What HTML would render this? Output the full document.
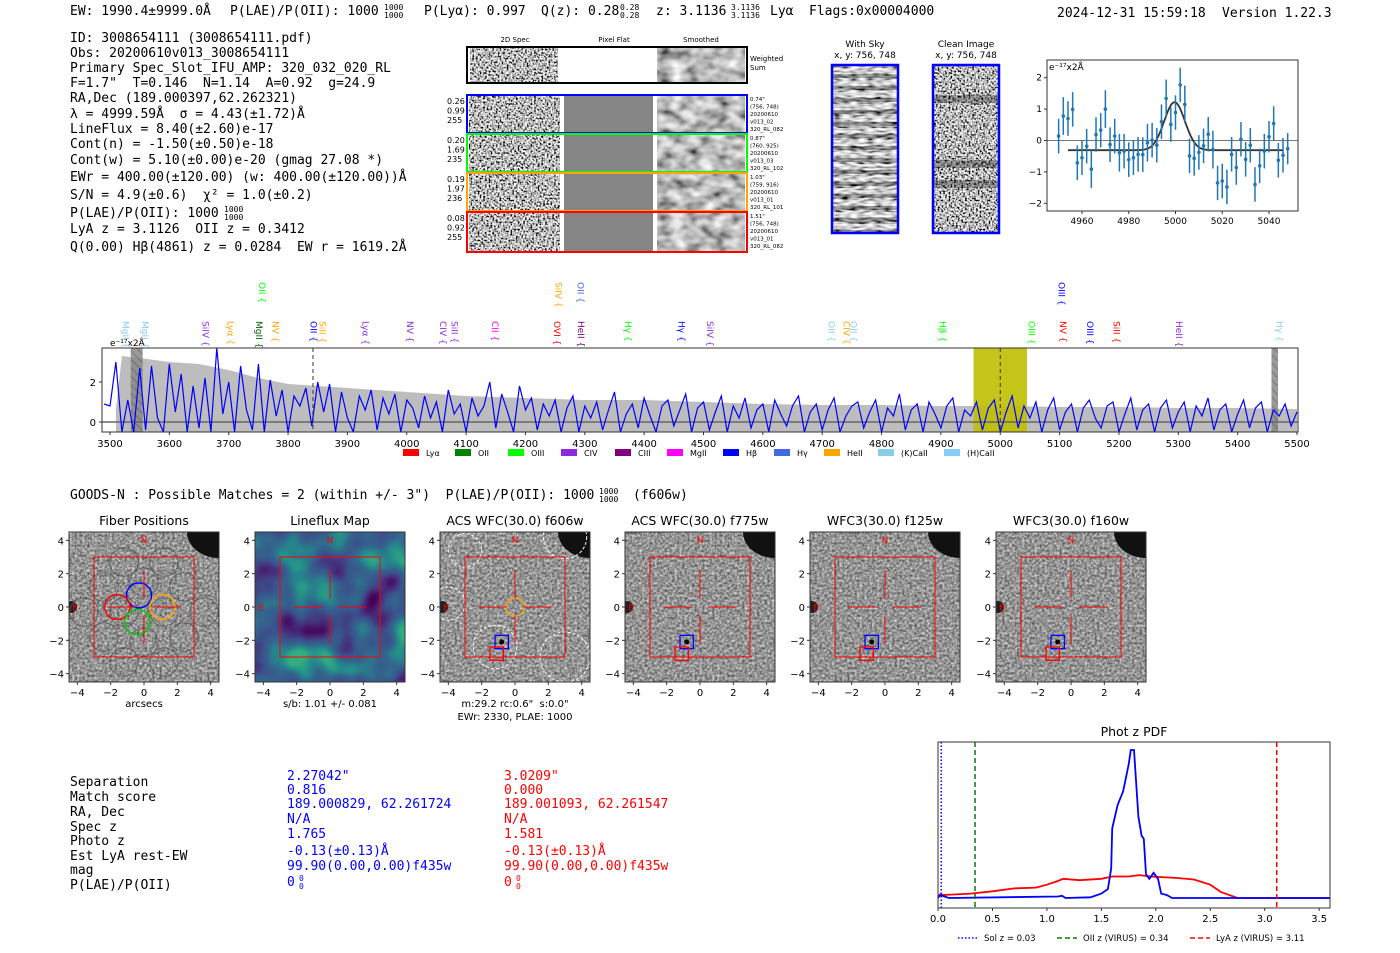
<!DOCTYPE html>
<html><head><meta charset="utf-8"><style>
html,body{margin:0;padding:0;background:#fff;}
svg{display:block;}
text{white-space:pre;}
.m{font-family:"DejaVu Sans Mono","Liberation Mono",monospace;font-size:13px;}
.s{font-family:"DejaVu Sans","Liberation Sans",sans-serif;}
</style></head><body>
<svg id="root" width="1400" height="953" viewBox="0 0 1400 953" xmlns="http://www.w3.org/2000/svg" xml:space="preserve">
<defs>
<filter id="nzHi" x="0" y="0" width="1" height="1"><feTurbulence type="fractalNoise" baseFrequency="0.55" numOctaves="1" seed="3"/><feColorMatrix type="matrix" values="3 0 0 0 -1  3 0 0 0 -1  3 0 0 0 -1  0 0 0 0 1"/></filter>
<filter id="nzSm" x="0" y="0" width="1" height="1"><feTurbulence type="fractalNoise" baseFrequency="0.07 0.1" numOctaves="2" seed="7"/><feColorMatrix type="matrix" values="1.4 0 0 0 -0.2  1.4 0 0 0 -0.2  1.4 0 0 0 -0.2  0 0 0 0 1"/></filter>
<filter id="nzCut" x="0" y="0" width="1" height="1" color-interpolation-filters="sRGB"><feTurbulence type="fractalNoise" baseFrequency="0.4" numOctaves="2" seed="11"/><feColorMatrix type="matrix" values="0.8 0 0 0 0.18  0.8 0 0 0 0.18  0.8 0 0 0 0.18  0 0 0 0 1"/></filter>
<filter id="nzSky" x="0" y="0" width="1" height="1"><feTurbulence type="fractalNoise" baseFrequency="0.12 0.45" numOctaves="1" seed="5"/><feColorMatrix type="matrix" values="2.2 0 0 0 -0.6  2.2 0 0 0 -0.6  2.2 0 0 0 -0.6  0 0 0 0 1"/></filter>
<filter id="viri" x="0" y="0" width="1" height="1" color-interpolation-filters="sRGB"><feTurbulence type="fractalNoise" baseFrequency="0.028" numOctaves="2" seed="4"/><feColorMatrix type="matrix" values="1.7 0 0 0 -0.35  1.7 0 0 0 -0.35  1.7 0 0 0 -0.35  0 0 0 0 1"/><feComponentTransfer><feFuncR type="table" tableValues="0.27 0.28 0.23 0.20 0.14 0.20"/><feFuncG type="table" tableValues="0.00 0.17 0.32 0.40 0.55 0.68"/><feFuncB type="table" tableValues="0.33 0.48 0.55 0.55 0.55 0.50"/></feComponentTransfer></filter>
<pattern id="hatch" width="6" height="6" patternUnits="userSpaceOnUse" patternTransform="rotate(-45)"><rect width="6" height="6" fill="#888"/><line x1="0" y1="0" x2="0" y2="6" stroke="#555" stroke-width="1.5"/></pattern>
<clipPath id="specClip"><rect x="102" y="348" width="1196" height="84"/></clipPath>
<clipPath id="fitClip"><rect x="1047" y="60" width="251" height="151"/></clipPath>
<clipPath id="pdfClip"><rect x="938" y="742" width="392" height="166"/></clipPath>
</defs>

<g class="m" fill="#000">
<text x="70" y="15">EW: 1990.4±9999.0Å</text>
<text x="230" y="15">P(LAE)/P(OII): 1000</text>
<text x="384" y="10" style="font-size:8px">1000</text>
<text x="384" y="18" style="font-size:8px">1000</text>
<text x="424" y="15">P(Lyα): 0.997</text>
<text x="541" y="15">Q(z): 0.28</text>
<text x="620" y="10" style="font-size:8px">0.28</text>
<text x="620" y="18" style="font-size:8px">0.28</text>
<text x="656" y="15">z: 3.1136</text>
<text x="731" y="10" style="font-size:8px">3.1136</text>
<text x="731" y="18" style="font-size:8px">3.1136</text>
<text x="770" y="15">Lyα</text>
<text x="809" y="15">Flags:0x00004000</text>
<text x="1057" y="17">2024-12-31 15:59:18</text>
<text x="1222" y="17">Version 1.22.3</text>
</g>

<g class="m" fill="#000">
<text x="70" y="42">ID: 3008654111 (3008654111.pdf)</text>
<text x="70" y="57">Obs: 20200610v013_3008654111</text>
<text x="70" y="72">Primary Spec_Slot_IFU_AMP: 320_032_020_RL</text>
<text x="70" y="87">F=1.7"  T=0.146  N=1.14  A=0.92  g=24.9</text>
<text x="70" y="102">RA,Dec (189.000397,62.262321)</text>
<text x="70" y="118">λ = 4999.59Å  σ = 4.43(±1.72)Å</text>
<text x="70" y="133">LineFlux = 8.40(±2.60)e-17</text>
<text x="70" y="148">Cont(n) = -1.50(±0.50)e-18</text>
<text x="70" y="164">Cont(w) = 5.10(±0.00)e-20 (gmag 27.08 *)</text>
<text x="70" y="181">EWr = 400.00(±120.00) (w: 400.00(±120.00))Å</text>
<text x="70" y="199">S/N = 4.9(±0.6)  χ² = 1.0(±0.2)</text>
<text x="70" y="217">P(LAE)/P(OII): 1000</text>
<text x="224" y="212" style="font-size:8px">1000</text>
<text x="224" y="220" style="font-size:8px">1000</text>
<text x="70" y="233">LyA z = 3.1126  OII z = 0.3412</text>
<text x="70" y="251">Q(0.00) Hβ(4861) z = 0.0284  EW r = 1619.2Å</text>
</g>

<g id="spec2d" class="s">
<text x="515" y="42" font-size="7" text-anchor="middle">2D Spec</text>
<text x="614" y="42" font-size="7" text-anchor="middle">Pixel Flat</text>
<text x="701" y="42" font-size="7" text-anchor="middle">Smoothed</text>
<rect x="470" y="48" width="88" height="34" filter="url(#nzHi)"/>
<rect x="657" y="48" width="88" height="34" filter="url(#nzSm)"/>
<rect x="467" y="47" width="280" height="36" fill="none" stroke="#000" stroke-width="2"/>
<text x="750" y="61" font-size="7">Weighted</text>
<text x="750" y="70" font-size="7">Sum</text>
</g>

<g class="s">
<text x="865" y="47" font-size="9" text-anchor="middle">With Sky</text>
<text x="865" y="58" font-size="9" text-anchor="middle">x, y: 756, 748</text>
<rect x="832" y="65" width="66" height="168" filter="url(#nzSky)"/>
<g id="stripes"></g>
<rect x="832" y="65" width="66" height="168" fill="none" stroke="#00f" stroke-width="2.5"/>
<text x="966" y="47" font-size="9" text-anchor="middle">Clean Image</text>
<text x="966" y="58" font-size="9" text-anchor="middle">x, y: 756, 748</text>
<rect x="933" y="65" width="66" height="168" filter="url(#nzHi)"/>
<g id="bands"></g>
<rect x="933" y="65" width="66" height="168" fill="none" stroke="#00f" stroke-width="2.5"/>
</g>

<g id="fit" class="s"></g>
<g id="spec" class="s"></g>

<text x="70" y="499" class="m">GOODS-N : Possible Matches = 2 (within +/- 3")  P(LAE)/P(OII): 1000</text>
<text x="599" y="494" class="m" style="font-size:8px">1000</text>
<text x="599" y="502" class="m" style="font-size:8px">1000</text>
<text x="633" y="499" class="m">(f606w)</text>

<g id="cuts" class="s"></g>

<g class="m">
<g fill="#000">
<text x="70" y="786">Separation</text>
<text x="70" y="801">Match score</text>
<text x="70" y="816">RA, Dec</text>
<text x="70" y="831">Spec z</text>
<text x="70" y="845">Photo z</text>
<text x="70" y="860">Est LyA rest-EW</text>
<text x="70" y="874">mag</text>
<text x="70" y="889">P(LAE)/P(OII)</text>
</g>
<g fill="#0000ff">
<text x="287" y="780">2.27042"</text>
<text x="287" y="794">0.816</text>
<text x="287" y="808">189.000829, 62.261724</text>
<text x="287" y="823">N/A</text>
<text x="287" y="838">1.765</text>
<text x="287" y="855">-0.13(±0.13)Å</text>
<text x="287" y="870">99.90(0.00,0.00)f435w</text>
<text x="287" y="886">0</text>
<text x="299" y="881" style="font-size:8px">0</text>
<text x="299" y="889" style="font-size:8px">0</text>
</g>
<g fill="#ff0000">
<text x="504" y="780">3.0209"</text>
<text x="504" y="794">0.000</text>
<text x="504" y="808">189.001093, 62.261547</text>
<text x="504" y="823">N/A</text>
<text x="504" y="838">1.581</text>
<text x="504" y="855">-0.13(±0.13)Å</text>
<text x="504" y="870">99.90(0.00,0.00)f435w</text>
<text x="504" y="886">0</text>
<text x="516" y="881" style="font-size:8px">0</text>
<text x="516" y="889" style="font-size:8px">0</text>
</g>
</g>

<g id="pdf" class="s"></g>
</svg>

<script>
var fitWave = [4950,4952,4954,4956,4958,4960,4962,4964,4966,4968,4970,4972,4974,4976,4978,4980,4982,4984,4986,4988,4990,4992,4994,4996,4998,5000,5002,5004,5006,5008,5010,5012,5014,5016,5018,5020,5022,5024,5026,5028,5030,5032,5034,5036,5038,5040,5042,5044,5046,5048];
var fitFlux = [0.14,0.78,0.70,0.99,-0.71,-0.55,-0.18,-0.91,0.19,0.33,1.0,-0.13,0.14,-0.39,-0.34,-0.61,-0.55,-0.44,-0.45,-0.07,0.01,-0.15,0.6,1.34,0.51,0.89,1.77,1.15,-0.49,-0.57,-0.38,-0.17,0.2,-0.29,-1.35,-1.29,-1.48,-0.44,-0.86,0.04,-0.6,-0.15,-1.4,-0.81,-0.34,0.12,0.54,-0.63,-0.47,-0.26];
var fitErr = [0.55,0.6,0.55,0.55,0.55,0.55,0.55,0.6,0.55,0.55,0.6,0.55,0.55,0.6,0.55,0.55,0.55,0.55,0.55,0.6,0.55,0.55,0.55,0.6,0.55,0.55,0.55,0.6,0.55,0.55,0.55,0.55,0.55,0.6,0.55,0.55,0.55,0.55,0.55,0.55,0.55,0.55,0.55,0.55,0.55,0.5,0.55,0.55,0.55,0.5];
var fitModel = {center:4999.6, sigma:4.43, amp:1.53, base:-0.31};
var fitXTicks = [4960,4980,5000,5020,5040];
var fitYTicks = [-2,-1,0,1,2];

var specStart = 3490, specStep = 10;
var specFlux = [
0.9,0.8,3.0,-0.5,1.1,-0.5,2.7,-0.4,2.8,0.2,-0.5,2.9,0.5,2.4,-0.5,1.8,-0.3,2.2,-0.5,3.7,
0.4,2.0,-0.5,2.8,0.6,-0.4,2.9,-0.5,2.1,0.3,1.6,-0.5,1.3,0.8,1.7,-0.2,2.0,0.5,1.9,-0.5,
1.5,0.2,-0.5,1.3,0.6,1.6,-0.4,1.2,0.4,1.4,-0.5,1.1,0.7,-0.3,1.3,0.2,1.0,-0.5,1.6,0.4,
0.9,-0.5,1.2,0.3,0.8,2.0,-0.3,1.4,0.5,-0.5,1.8,0.6,1.2,-0.4,0.9,0.3,1.1,-0.5,0.7,1.3,
-0.5,0.8,0.2,1.0,-0.4,0.6,1.5,-0.5,0.4,0.9,-0.3,1.2,0.3,-0.5,0.8,1.1,-0.2,0.6,1.4,-0.5,
0.7,1.0,-0.4,0.5,1.3,-0.5,0.8,0.2,1.2,-0.3,0.6,0.9,-0.5,1.1,0.4,-0.2,0.8,1.3,-0.5,0.5,
0.9,-0.4,0.6,1.2,-0.5,0.3,0.8,1.0,-0.3,0.5,1.1,-0.5,0.7,0.3,1.4,-0.4,0.6,0.9,-0.5,1.0,
0.4,-0.3,0.8,1.2,-0.5,0.6,0.3,1.0,-0.4,0.7,1.1,-0.5,0.5,1.3,-0.3,0.8,0.2,1.0,-0.5,0.6,
1.2,-0.4,0.5,0.9,-0.5,0.7,1.1,0.2,-0.3,0.8,1.0,-0.5,0.4,1.2,-0.4,0.6,0.9,-0.5,0.7,1.1,
-0.3,0.5,1.0,-0.5,0.8,0.3,1.2,-0.4,0.6,0.9,-0.5,0.4,1.1,-0.3,0.7,1.0,-0.5,0.6,0.3,0.9,
-0.2,0.5];
var noiseWave = [3510,3520,3550,3600,3650,3700,3750,3800,3850,3900,4000,4100,4200,4300,4400,4500,4600,4700,4800,4900,5000,5100,5200,5300,5400,5500];
var noiseVal  = [0.6,3.3,3.2,3.0,2.9,2.6,2.2,1.9,1.8,1.7,1.5,1.3,1.2,1.1,1.1,1.0,0.9,0.85,0.85,0.8,0.8,0.75,0.75,0.7,0.7,0.65];
var specXTicks = [3500,3600,3700,3800,3900,4000,4100,4200,4300,4400,4500,4600,4700,4800,4900,5000,5100,5200,5300,5400,5500];
var specYTicks = [0,2];
var lineNames = ["MgII","MgII","SiIV","Lyα","MgII","OII","NV","OII","SiII","Lyα","NV","CIV","SiII","CII","OVI","SiIV","OII","HeII","Hγ","Hγ","SiIV","OII","CIV","OII","Hβ","OIII","OIII","NV","OIII","SiII","HeII","Hγ"];
var lineWaves = [3525,3558,3660,3702,3750,3755,3778,3842,3857,3930,4005,4060,4080,4148,4252,4255,4292,4293,4372,4462,4510,4715,4740,4752,4902,5052,5102,5105,5150,5195,5300,5470];
var lineColors = ["#87ceeb","#87ceeb","#8a2be2","#ffa500","#006400","#00ff00","#ffa500","#0000ff","#ffa500","#8a2be2","#8a2be2","#8a2be2","#8a2be2","#ff00ff","#ff0000","#ffa500","#4169e1","#800080","#00ff00","#0000ff","#8a2be2","#87ceeb","#ffa500","#87ceeb","#00ff00","#00ff00","#0000ff","#ff0000","#0000ff","#ff0000","#8a2be2","#87ceeb"];
var lineRow = [0,0,0,0,0,1,0,0,0,0,0,0,0,0,0,1,1,0,0,0,0,0,0,0,0,0,1,0,0,0,0,0];
var legendNames = ["Lyα","OII","OIII","CIV","CIII","MgII","Hβ","Hγ","HeII","(K)CaII","(H)CaII"];
var legendColors = ["#ff0000","#008000","#00ff00","#8a2be2","#800080","#ff00ff","#0000ff","#4169e1","#ffa500","#87ceeb","#87cefa"];

var pdfZBlue = [0,0.02,0.1,1.1,1.14,1.17,1.4,1.5,1.56,1.59,1.6,1.65,1.7,1.75,1.77,1.8,1.84,1.87,1.89,1.91,1.94,1.98,2.02,2.05,2.1,2.15,2.7,3.6];
var pdfBlue  = [0,0.02,0,0.01,0.015,0,0.005,0.03,0.06,0.2,0.47,0.63,0.72,0.9,1.0,1.0,0.55,0.42,0.4,0.16,0.13,0.17,0.13,0.03,0.02,0,0,0];
var pdfZRed  = [0,0.02,0.05,0.3,0.5,0.7,0.9,1.0,1.1,1.15,1.3,1.5,1.6,1.75,1.85,1.95,2.2,2.35,2.5,2.6,2.75,3.6];
var pdfRed   = [0.01,0.025,0.02,0.03,0.045,0.065,0.07,0.09,0.115,0.13,0.12,0.13,0.145,0.145,0.155,0.145,0.135,0.125,0.09,0.04,0,0];
var pdfXTicks = [0,0.5,1.0,1.5,2.0,2.5,3.0,3.5];
var pdfVLineZ = [0.03,0.34,3.11];

var cutTitles = ["Fiber Positions","Lineflux Map","ACS WFC(30.0) f606w","ACS WFC(30.0) f775w","WFC3(30.0) f125w","WFC3(30.0) f160w"];
var cutTicks = [-4,-2,0,2,4];

var NS = "http://www.w3.org/2000/svg";
function mk(tag, attrs, parent){var e=document.createElementNS(NS,tag);for(var k in attrs)e.setAttribute(k,attrs[k]);parent.appendChild(e);return e;}
function txt(s, attrs, parent){var e=mk("text",attrs,parent);e.textContent=s;return e;}

(function(){
  var g=document.getElementById("spec2d");
  var rowsY=[95,134,173,212], rowsH=[38,38,38,40], cols=["#0000ff","#00ff00","#ffa500","#ff0000"];
  var left=[["0.26","0.99","255"],["0.20","1.69","235"],["0.19","1.97","236"],["0.08","0.92","255"]];
  var right=[["0.74\"","(756, 748)","20200610","v013_02","320_RL_082"],["0.87\"","(760, 925)","20200610","v013_03","320_RL_102"],["1.03\"","(759, 916)","20200610","v013_01","320_RL_101"],["1.51\"","(756, 748)","20200610","v013_01","320_RL_082"]];
  for(var i=0;i<4;i++){
    var y=rowsY[i],h=rowsH[i];
    var a=mk("rect",{x:469,y:y+1,width:91,height:h-2,filter:"url(#nzHi)"},g);
    
    
    var b=mk("rect",{x:564,y:y+1,width:89,height:h-2,fill:"#858585"},g);
    
    
    var c=mk("rect",{x:657,y:y+1,width:88,height:h-2,filter:"url(#nzSm)"},g);
    
    
    var bx=mk("rect",{x:467,y:y,width:280,height:h,fill:"none",stroke:cols[i],"stroke-width":2},g);
    
    
    for(var j=0;j<3;j++){
      var t=txt(left[i][j],{x:447,y:y+9+j*9.5,"font-size":8},g);
      
      
    }
    for(var j=0;j<5;j++){
      var t=txt(right[i][j],{x:750,y:y+6+j*7.5,"font-size":5.5},g);
      
      
    }
  }
  var sg=document.getElementById("stripes");
  for(var k=0;k<14;k++){
    var s=mk("rect",{x:832,y:68+k*12,width:66,height:5,fill:"#fff",opacity:0.4},sg);
    
    
    var s2=mk("rect",{x:832,y:74+k*12,width:66,height:4,fill:"#000",opacity:0.3},sg);
    
    
  }
  var bg=document.getElementById("bands");
  var bands=[95,160,180];
  for(var k=0;k<bands.length;k++){
    var s=mk("rect",{x:933,y:bands[k],width:66,height:8,fill:"#000",opacity:0.3},bg);
    
    
  }
})();

(function(){
  var g=document.getElementById("fit");
  var X0=1047,X1=1298,Y0=60,Y1=211;
  function sx(w){return 1082+(w-4960)*2.3375;}
  function sy(v){return 140.5-v*31.4;}
  var zl=mk("line",{x1:X0,x2:X1,y1:sy(0),y2:sy(0),stroke:"#777","stroke-width":1},g);
  
  
  var cg=mk("g",{"clip-path":"url(#fitClip)"},g);
  var d="";
  for(var w=4954;w<=5046;w+=0.5){var v=fitModel.base+fitModel.amp*Math.exp(-0.5*Math.pow((w-fitModel.center)/fitModel.sigma,2));d+=(d?"L":"M")+sx(w).toFixed(1)+","+sy(v).toFixed(1);}
  var mp=mk("path",{d:d,fill:"none",stroke:"#333","stroke-width":1.8},cg);
  
  
  for(var i=0;i<fitWave.length;i++){
    var x=sx(fitWave[i]);
    var eb=mk("line",{x1:x,x2:x,y1:sy(fitFlux[i]-fitErr[i]),y2:sy(fitFlux[i]+fitErr[i]),stroke:"#1f77b4","stroke-width":1.5},cg);
    
    
    var p=mk("circle",{cx:x,cy:sy(fitFlux[i]),r:1.8,fill:"#1f77b4"},cg);
    
    
  }
  var fr=mk("rect",{x:X0,y:Y0,width:X1-X0,height:Y1-Y0,fill:"none",stroke:"#333","stroke-width":1},g);
  
  
  fitXTicks.forEach(function(t){
    var tk=mk("line",{x1:sx(t),x2:sx(t),y1:Y1,y2:Y1+3,stroke:"#333"},g);
    
    
    var l=txt(String(t),{x:sx(t),y:Y1+13,"font-size":9,"text-anchor":"middle"},g);
    
    
  });
  fitYTicks.forEach(function(t){
    var tk=mk("line",{x1:X0-3,x2:X0,y1:sy(t),y2:sy(t),stroke:"#333"},g);
    
    
    var l=txt(String(t).replace("-","−"),{x:X0-5,y:sy(t)+3,"font-size":9,"text-anchor":"end"},g);
    
    
  });
  var u=txt("e⁻¹⁷x2Å",{x:X0+2,y:Y0+10,"font-size":9},g);
  
  
})();

(function(){
  var g=document.getElementById("spec");
  var X0=102,X1=1298,Y0=348,Y1=432;
  function sx(w){return 110+(w-3500)*(1187/2000);}
  function sy(v){return 422-v*20;}
  var cg=mk("g",{"clip-path":"url(#specClip)"},g);
  var d="M"+sx(noiseWave[0])+","+Y1;
  for(var i=0;i<noiseWave.length;i++)d+="L"+sx(noiseWave[i]).toFixed(1)+","+sy(noiseVal[i]).toFixed(1);
  d+="L"+sx(noiseWave[noiseWave.length-1])+","+Y1+"Z";
  var np=mk("path",{d:d,fill:"#bdbdbd"},cg);
  
  
  var yb=mk("rect",{x:sx(4955),y:Y0,width:sx(5045)-sx(4955),height:Y1-Y0,fill:"#bfbf00",opacity:0.9},cg);
  
  
  var h1=mk("rect",{x:sx(3535),y:Y0,width:sx(3555)-sx(3535),height:Y1-Y0,fill:"url(#hatch)",opacity:0.85},cg);
  
  
  var h2=mk("rect",{x:sx(5457),y:Y0,width:sx(5468)-sx(5457),height:Y1-Y0,fill:"url(#hatch)",opacity:0.85},cg);
  
  
  var zl=mk("line",{x1:X0,x2:X1,y1:sy(0),y2:sy(0),stroke:"#666","stroke-width":1.5},cg);
  
  
  var pd="";
  for(var i=0;i<specFlux.length;i++)pd+=(pd?"L":"M")+sx(specStart+i*specStep).toFixed(1)+","+sy(specFlux[i]).toFixed(1);
  var sp=mk("path",{d:pd,fill:"none",stroke:"#0000ff","stroke-width":1.2},cg);
  
  
  [3842,5000].forEach(function(w){
    var dl=mk("line",{x1:sx(w),x2:sx(w),y1:Y0,y2:Y1,stroke:"#333","stroke-dasharray":"4,3","stroke-width":1},cg);
    
    
  });
  var fr=mk("rect",{x:X0,y:Y0,width:X1-X0,height:Y1-Y0,fill:"none",stroke:"#333","stroke-width":1},g);
  
  
  specXTicks.forEach(function(t){
    var tk=mk("line",{x1:sx(t),x2:sx(t),y1:Y1,y2:Y1+3,stroke:"#333"},g);
    
    
    var l=txt(String(t),{x:sx(t),y:Y1+15,"font-size":10,"text-anchor":"middle"},g);
    
    
  });
  specYTicks.forEach(function(t){
    var tk=mk("line",{x1:X0-3,x2:X0,y1:sy(t),y2:sy(t),stroke:"#333"},g);
    
    
    var l=txt(String(t),{x:X0-6,y:sy(t)+4,"font-size":10,"text-anchor":"end"},g);
    
    
  });
  var u=txt("e⁻¹⁷x2Å",{x:110,y:346,"font-size":9},g);
  
  
  for(var i=0;i<lineNames.length;i++){
    var x=sx(lineWaves[i]), yTop=lineRow[i]?282:321;
    var t=txt(lineNames[i]+" {",{x:x,y:yTop,"font-size":9,fill:lineColors[i],transform:"rotate(90 "+x+" "+yTop+")","dominant-baseline":"middle"},g);
    
    
  }
  var lx=[403,455,508,561,615,667,723,774,824,878,944];
  for(var i=0;i<legendNames.length;i++){
    var r=mk("rect",{x:lx[i],y:449,width:16,height:7,fill:legendColors[i]},g);
    
    
    var t=txt(legendNames[i],{x:lx[i]+23,y:456,"font-size":8},g);
    
    
  }
})();

(function(){
  var g=document.getElementById("cuts");
  var lefts=[69,255,440,625,810,996], TOP=532, S=150, U=S/9;
  for(var p=0;p<6;p++){
    var L=lefts[p], cx=L+S/2, cy=TOP+S/2;
    function px(v){return cx+v*U;} function py(v){return cy-v*U;}
    var pg=mk("g",{},g);
    
    
    var clipId="cc"+p;
    var cp=mk("clipPath",{id:clipId},pg); mk("rect",{x:L,y:TOP,width:S,height:S},cp);
    var ig=mk("g",{"clip-path":"url(#"+clipId+")"},pg);
    var img=mk("rect",{x:L,y:TOP,width:S,height:S,filter:p==1?"url(#viri)":"url(#nzCut)"},ig);
    
    
    if(p!=1){
      var bl=mk("ellipse",{cx:L+S,cy:TOP,rx:32,ry:26,fill:"#111"},ig);
      
      
      var b2=mk("circle",{cx:L+2,cy:py(0),r:6,fill:"#222"},ig);
      
      
    }
    if(p==0){
      var cen=[[-2.4,1.2],[0,1.5],[2.4,1.2],[-1.2,-0.3],[1.2,-0.3],[-2.4,-1.8],[0,-2.1],[2.4,-1.8],[-1.2,2.7],[1.2,2.7],[-1.2,-3.3],[1.2,-3.3],[3.6,-0.3],[-3.6,-0.3]];
      cen.forEach(function(c){var e=mk("circle",{cx:px(c[0]),cy:py(c[1]),r:0.85*U,fill:"none",stroke:"#555","stroke-width":0.8},ig);});
      var cc=[[-0.3,0.7,"#0000ff"],[-1.6,0,"#ff0000"],[-0.4,-0.9,"#00cc00"],[1.1,0,"#ffa500"]];
      cc.forEach(function(c){var e=mk("circle",{cx:px(c[0]),cy:py(c[1]),r:0.75*U,fill:"none",stroke:c[2],"stroke-width":1.5},ig);});
    }
    if(p==2){
      var wc=[[3,4.2,1.3],[-4,0.2,1],[-1.2,-2.4,1.3],[3,-3,1.5],[-3,3.4,1]];
      wc.forEach(function(c){var e=mk("circle",{cx:px(c[0]),cy:py(c[1]),r:c[2]*U,fill:"none",stroke:"#fff","stroke-dasharray":"3,2","stroke-width":1},ig);});
      var oc=mk("circle",{cx:px(0),cy:py(0),r:0.55*U,fill:"none",stroke:"#ffa500","stroke-width":1.3},ig);
      
      
    }
    if(p>=2){
      var bs=mk("rect",{x:px(-1.2),y:py(-1.7),width:0.8*U,height:0.8*U,fill:"none",stroke:"#0000ff","stroke-width":1.3},ig);
      
      
      var dot=mk("circle",{cx:px(-0.8),cy:py(-2.1),r:2.5,fill:"#000"},ig);
      
      
      var rs=mk("rect",{x:px(-1.5),y:py(-2.4),width:0.8*U,height:0.8*U,fill:"none",stroke:"#ff0000","stroke-width":1.3},ig);
      
      
    }
    var rq=mk("rect",{x:px(-3),y:py(3),width:6*U,height:6*U,fill:"none",stroke:"#ff0000","stroke-width":1},ig);
    
    
    [[-2.2,0,-0.5,0],[0.5,0,2.2,0],[0,2.2,0,0.5],[0,-0.5,0,-2.2]].forEach(function(s){
      var l=mk("line",{x1:px(s[0]),y1:py(s[1]),x2:px(s[2]),y2:py(s[3]),stroke:"#ff0000","stroke-width":1},ig);
      
      
    });
    var n=txt("N",{x:px(0),y:py(3.85),"font-size":9,fill:"#ff0000","text-anchor":"middle"},pg);
    
    
    var e=txt("E",{x:px(-4.3),y:py(-0.2),"font-size":9,fill:"#ff0000"},pg);
    
    
    var fr=mk("rect",{x:L,y:TOP,width:S,height:S,fill:"none",stroke:"#333","stroke-width":1},pg);
    
    
    var tt=txt(cutTitles[p],{x:cx,y:TOP-7,"font-size":12.5,"text-anchor":"middle"},pg);
    
    
    cutTicks.forEach(function(t){
      var a=mk("line",{x1:px(t),x2:px(t),y1:TOP+S,y2:TOP+S+3,stroke:"#333"},pg);
      
      
      var al=txt(t<0?"−"+(-t):String(t),{x:px(t),y:TOP+S+14,"font-size":10,"text-anchor":"middle"},pg);
      
      
      var b=mk("line",{x1:L-3,x2:L,y1:py(t),y2:py(t),stroke:"#333"},pg);
      
      
      var bl2=txt(t<0?"−"+(-t):String(t),{x:L-5,y:py(t)+4,"font-size":10,"text-anchor":"end"},pg);
      
      
    });
  }
  var a1=txt("arcsecs",{x:144,y:707,"font-size":10,"text-anchor":"middle"},g);
  
  
  var a2=txt("s/b: 1.01 +/- 0.081",{x:330,y:707,"font-size":10,"text-anchor":"middle"},g);
  
  
  var a3=txt("m:29.2 rc:0.6\"  s:0.0\"",{x:515,y:707,"font-size":10,"text-anchor":"middle"},g);
  
  
  var a4=txt("EWr: 2330, PLAE: 1000",{x:515,y:720,"font-size":10,"text-anchor":"middle"},g);
  
  
})();

(function(){
  var g=document.getElementById("pdf");
  var X0=938,X1=1330,Y0=742,Y1=908;
  function sx(z){return 938+z*108.9;}
  function sy(v){return 898-v*148;}
  var t=txt("Phot z PDF",{x:1134,y:736,"font-size":12.5,"text-anchor":"middle"},g);
  
  
  var cg=mk("g",{"clip-path":"url(#pdfClip)"},g);
  function path(zs,vs){var d="";for(var i=0;i<zs.length;i++)d+=(d?"L":"M")+sx(zs[i]).toFixed(1)+","+sy(vs[i]).toFixed(1);return d;}
  var r=mk("path",{d:path(pdfZRed,pdfRed),fill:"none",stroke:"#ff0000","stroke-width":1.8},cg);
  
  
  var b=mk("path",{d:path(pdfZBlue,pdfBlue),fill:"none",stroke:"#0000ff","stroke-width":1.8},cg);
  
  
  var vc=["#0000ff","#008000","#ff0000"], vd=["1.5,2","5,3","5,3"];
  for(var i=0;i<3;i++){
    var l=mk("line",{x1:sx(pdfVLineZ[i]),x2:sx(pdfVLineZ[i]),y1:Y0,y2:Y1,stroke:vc[i],"stroke-width":1.5,"stroke-dasharray":vd[i]},cg);
    
    
  }
  var fr=mk("rect",{x:X0,y:Y0,width:X1-X0,height:Y1-Y0,fill:"none",stroke:"#333","stroke-width":1},g);
  
  
  pdfXTicks.forEach(function(z){
    var tk=mk("line",{x1:sx(z),x2:sx(z),y1:Y1,y2:Y1+3,stroke:"#333"},g);
    
    
    var l=txt(z.toFixed(1),{x:sx(z),y:Y1+14,"font-size":10,"text-anchor":"middle"},g);
    
    
  });
  var lg=[[958,"Sol z = 0.03","#0000ff","1.5,2"],[1057,"OII z (VIRUS) = 0.34","#008000","5,3"],[1190,"LyA z (VIRUS) = 3.11","#ff0000","5,3"]];
  lg.forEach(function(e,i){
    var l=mk("line",{x1:e[0],x2:e[0]+20,y1:938,y2:938,stroke:e[2],"stroke-width":1.5,"stroke-dasharray":e[3]},g);
    
    
    var tt=txt(e[1],{x:e[0]+26,y:941,"font-size":8.5},g);
    
    
  });
})();
</script>
</body></html>
